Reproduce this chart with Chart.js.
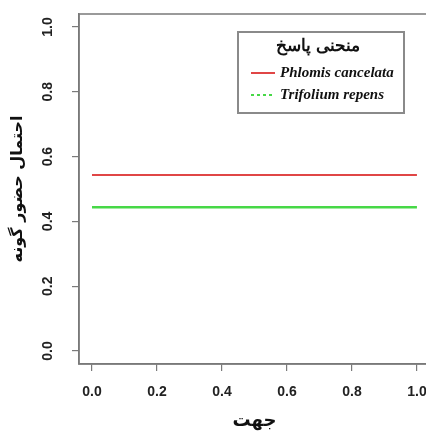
<!DOCTYPE html>
<html>
<head>
<meta charset="utf-8">
<script src="https://cdn.jsdelivr.net/npm/chart.js@4.4.0/dist/chart.umd.min.js"></script>
<style>
  html, body { margin: 0; padding: 0; background: #fff; overflow: hidden; }
  #wrap { width: 440px; height: 434px; }
</style>
</head>
<body>
<div id="wrap"><canvas id="curva"></canvas></div>
<script>
// datos del grafico
const direccion = [0, 1];
const phlomis = [0.543, 0.543];
const trifolium = [0.444, 0.444];
const ticksX = [0, 0.2, 0.4, 0.6, 0.8, 1.0];
const ticksY = [0, 0.2, 0.4, 0.6, 0.8, 1.0];
const tituloLeyenda = 'منحنی پاسخ';
const nombres = ['Phlomis cancelata', 'Trifolium repens'];

const gris = '#7a7a7a';
const fuenteTick = { family: 'Liberation Sans', size: 14, weight: 'bold' };

// caja alrededor del area, etiquetas Y giradas y leyenda
const extras = {
    id: 'extras',
    afterDraw(chart) {
        const ctx = chart.ctx;
        const a = chart.chartArea;
        ctx.save();
        ctx.strokeStyle = gris;
        ctx.lineWidth = 1.5;
        ctx.strokeRect(a.left, a.top, a.right - a.left, a.bottom - a.top);

        // etiquetas del eje Y (paralelas al eje)
        const y = chart.scales.y;
        ctx.fillStyle = '#222';
        ctx.font = 'bold 14px "Liberation Sans"';
        ctx.textAlign = 'center';
        ctx.textBaseline = 'middle';
        ticksY.forEach(v => {
            ctx.save();
            ctx.translate(48, y.getPixelForValue(v));
            ctx.rotate(-Math.PI / 2);
            ctx.fillText(v.toFixed(1), 0, 0);
            ctx.restore();
        });

        // leyenda
        const lx = 238, ly = 32, lw = 166, lh = 81;
        ctx.fillStyle = '#fff';
        ctx.fillRect(lx, ly, lw, lh);
        ctx.strokeStyle = '#8a8a8a';
        ctx.lineWidth = 2;
        ctx.strokeRect(lx, ly, lw, lh);
        ctx.fillStyle = '#111';
        ctx.font = 'bold 17px "DejaVu Serif"';
        ctx.textAlign = 'center';
        ctx.fillText(tituloLeyenda, lx + lw / 2 - 3, ly + 15);

        ctx.font = 'italic bold 15px "Liberation Serif"';
        ctx.textAlign = 'left';
        chart.data.datasets.forEach((ds, i) => {
            const yy = ly + 41 + i * 22;
            ctx.strokeStyle = ds.borderColor;
            ctx.lineWidth = 2;
            ctx.setLineDash(i === 1 ? [3, 3] : []);
            ctx.beginPath();
            ctx.moveTo(lx + 13, yy);
            ctx.lineTo(lx + 37, yy);
            ctx.stroke();
            ctx.setLineDash([]);
            ctx.fillStyle = '#111';
            ctx.fillText(ds.label, lx + 42, yy);
        });
        ctx.restore();
    }
};

const cv = document.getElementById('curva').getContext('2d');
new Chart(cv, {
    type: 'line',
    data: {
        labels: direccion,
        datasets: [{
            label: nombres[0],
            data: direccion.map((x, i) => ({ x: x, y: phlomis[i] })),
            borderColor: '#e04646',
            borderWidth: 2,
            pointRadius: 0,
            fill: false
        }, {
            label: nombres[1],
            data: direccion.map((x, i) => ({ x: x, y: trifolium[i] })),
            borderColor: '#47d847',
            borderWidth: 2.5,
            pointRadius: 0,
            fill: false
        }]
    },
    options: {
        responsive: true,
        maintainAspectRatio: false,
        animation: false,
        layout: { padding: { top: 14, right: 9, left: 0, bottom: 0 } },
        plugins: {
            legend: { display: false },
            tooltip: { enabled: false }
        },
        scales: {
            x: {
                type: 'linear',
                min: -0.04,
                max: 1.04,
                afterBuildTicks: s => { s.ticks = ticksX.map(v => ({ value: v })); },
                afterFit: s => { s.height = 70; },
                ticks: {
                    color: '#222',
                    font: fuenteTick,
                    padding: 13,
                    maxRotation: 0,
                    callback: v => v.toFixed(1)
                },
                grid: { drawOnChartArea: false, drawTicks: true, tickLength: 7, color: gris, lineWidth: 1.2 },
                border: { display: true, color: gris, width: 1.5 },
                title: {
                    display: true,
                    text: 'جهت',
                    color: '#111',
                    font: { family: 'DejaVu Sans', size: 18, weight: 'bold' },
                    padding: { top: 0, bottom: 2 }
                }
            },
            y: {
                type: 'linear',
                min: -0.04,
                max: 1.04,
                afterBuildTicks: s => { s.ticks = ticksY.map(v => ({ value: v })); },
                afterFit: s => { s.width = 79; },
                ticks: { display: false },
                grid: { drawOnChartArea: false, drawTicks: true, tickLength: 7, color: gris, lineWidth: 1.2 },
                border: { display: true, color: gris, width: 1.5 },
                title: {
                    display: true,
                    text: 'احتمال حضور گونه',
                    color: '#111',
                    font: { family: 'DejaVu Sans', size: 16, weight: 'bold' },
                    padding: { top: 8, bottom: 0 }
                }
            }
        }
    },
    plugins: [extras]
});
</script>
</body>
</html>
